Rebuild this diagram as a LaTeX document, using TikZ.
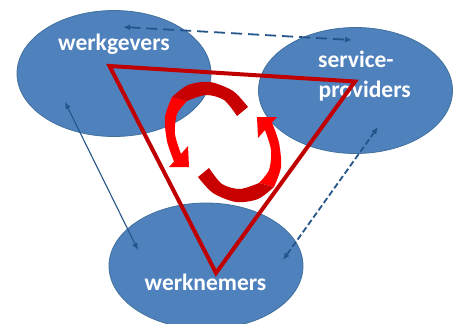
\documentclass[tikz,border=0pt]{standalone}
\usepackage{fontspec}
\setmainfont{Carlito}
\usetikzlibrary{shapes.geometric,arrows.meta}

\definecolor{ellfill}{HTML}{4F81BD}
\definecolor{elledge}{HTML}{41719C}
\definecolor{linkblue}{HTML}{24558A}
\definecolor{trired}{HTML}{C00000}
\definecolor{arrowred}{HTML}{FF0000}
\definecolor{arrowdark}{HTML}{C80000}

\tikzset{
  party/.style={ellipse, fill=ellfill, draw=elledge, line width=0.8pt,
    inner sep=0pt, minimum width=194pt, minimum height=126pt},
  partylabel/.style={text=white, inner sep=0pt,
    font=\fontsize{23.5}{28}\selectfont\bfseries},
  link/.style={draw=linkblue, {Latex[length=7pt,width=6pt]}-{Latex[length=7pt,width=6pt]}},
  dashlink/.style={link, line width=1.8pt, dash pattern=on 11pt off 6pt},
  solidlink/.style={link, line width=1.1pt},
  cyclearrow/.pic={
    % front half: rising band with the head
    \fill[arrowred] plot[smooth] coordinates {(51,45) (58,25) (56,1) (49,-19.5)}
      -- (54,-25) -- (34,-25) -- (35,-4) -- (42,-12)
      -- plot[smooth] coordinates {(42,-12) (48,8) (46,28) (36,41)} -- cycle;
    % back half: darker tail
    \fill[arrowdark] plot[smooth] coordinates {(-25,35) (-10,51) (13,60) (35,57) (51,45)}
      -- plot[smooth] coordinates {(36,41) (17,47) (-1,42) (-14,26)} -- cycle;
  }
}

\begin{document}
\begin{tikzpicture}[x=1pt,y=-1pt]
\useasboundingbox (0,0) rectangle (456,324);
\clip (0,0) rectangle (456,324);

% the three parties
\node[party] (wg) at (114,73.5) {};
\node[party] (sp) at (355.5,90.5) {};
\node[party] (wn) at (206,266) {};

\node[partylabel, anchor=base] (wgt) at (114,50) {werkgevers};
\node[partylabel, anchor=base west] (spt1) at (318,67) {service-};
\node[partylabel, anchor=base west] (spt2) at (318.5,97) {providers};
\node[partylabel, anchor=base] (wnt) at (205.5,290) {werknemers};

% relations between the parties
\coordinate (a1) at (123,27);
\coordinate (a2) at (352,40);
\coordinate (b1) at (65,102);
\coordinate (b2) at (138,250);
\coordinate (c1) at (378,127);
\coordinate (c2) at (283,260);
\draw[dashlink] (a1) -- (a2);
\draw[solidlink] (b1) -- (b2);
\draw[dashlink, dash pattern=on 6pt off 3pt] (c1) -- (c2);

% triangle
\coordinate (t1) at (109.5,66);
\coordinate (t2) at (355,81.5);
\coordinate (t3) at (216,273);
\draw[trired, line width=4pt, line join=miter] (t1) -- (t2) -- (t3) -- cycle;

% cycle of two curved arrows
\coordinate (cc) at (223,142);
\pic at (cc) {cyclearrow};
\pic[rotate=180] at (cc) {cyclearrow};
\end{tikzpicture}
\end{document}
